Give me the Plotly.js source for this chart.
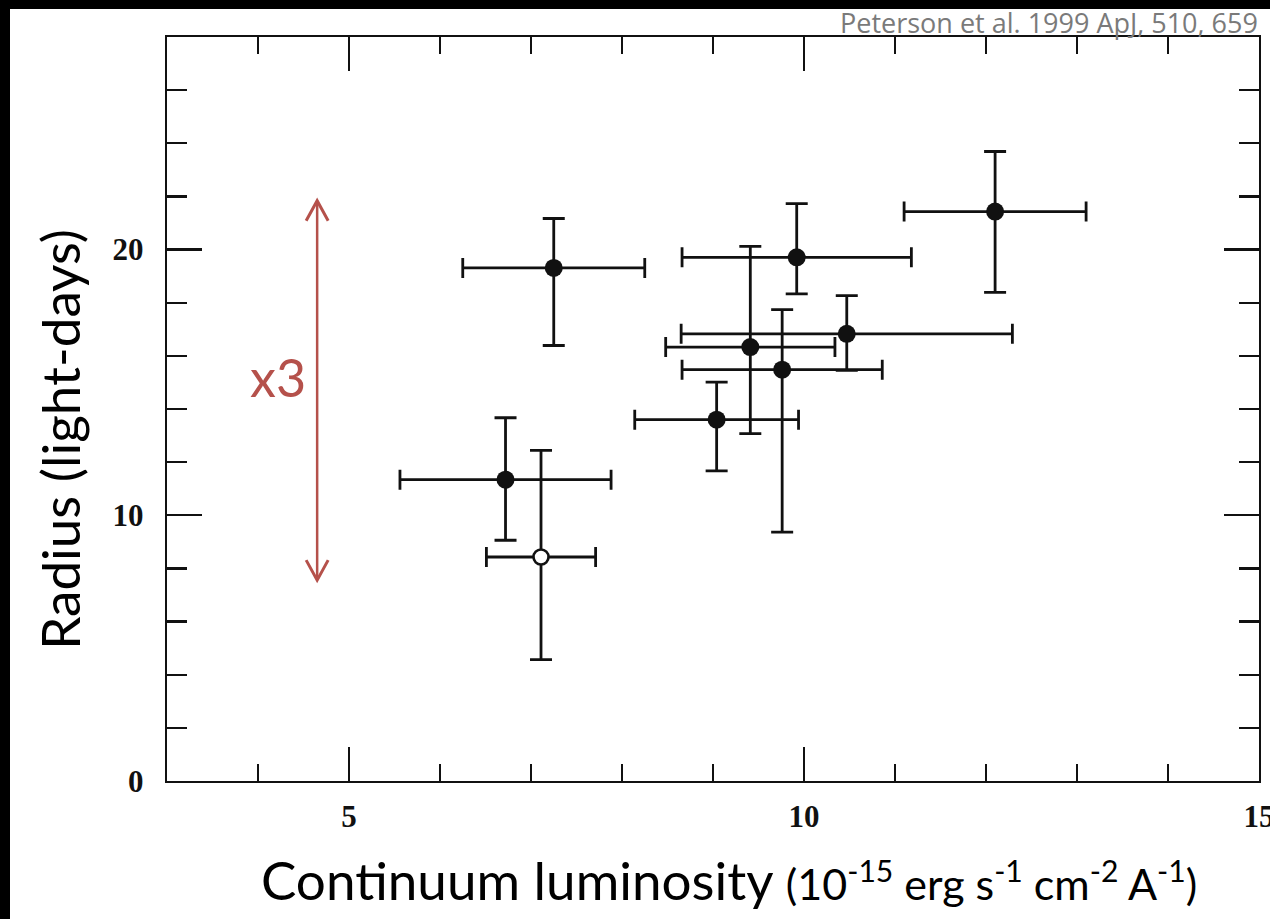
<!DOCTYPE html>
<html>
<head>
<meta charset="utf-8">
<script src="https://cdn.plot.ly/plotly-3.0.1.min.js"></script>
<style>
  html, body { margin: 0; padding: 0; background: #000; width: 1270px; height: 919px; overflow: hidden; }
  #chart { position: absolute; left: 10px; top: 9px; width: 1260px; height: 910px; background: #fff; }
</style>
</head>
<body>
<div id="chart"></div>
<script>
// Continuum luminosity (1e-15 erg s^-1 cm^-2 A^-1) and H-beta radius (light-days)
const luminosity   = [7.25, 6.72, 9.92, 9.41, 9.76, 10.47, 9.04, 12.10];
const lumErr       = [1.00, 1.16, 1.26, 0.93, 1.10, 1.82, 0.90, 1.00];
const radius       = [19.31, 11.34, 19.71, 16.33, 15.48, 16.83, 13.60, 21.43];
const radiusErrUp  = [1.86, 2.33, 2.02, 3.79, 2.26, 1.44, 1.41, 2.26];
const radiusErrLow = [2.92, 2.28, 1.38, 3.26, 6.11, 1.38, 1.93, 3.04];

// Separate (open-symbol) measurement
const openLum       = [7.11];
const openLumErr    = [0.60];
const openRadius    = [8.43];
const openRadErrUp  = [4.01];
const openRadErrLow = [3.86];

// Range spanned by the "x3" arrow
const spanX = 4.65;
const spanLow = 7.56;
const spanHigh = 21.84;

const xTicks = [5, 10, 15];
const yTicks = [0, 10, 20];

const ink = '#111';
const red = '#b5514b';
const sans = 'Lato, "Open Sans", sans-serif';
const serif = '"Liberation Serif", "DejaVu Serif", serif';

const errStyle = { color: ink, thickness: 2.8 };

const traces = [
  {
    type: 'scatter', mode: 'markers',
    x: luminosity, y: radius,
    error_x: Object.assign({ type: 'data', array: lumErr, symmetric: true, width: 10 }, errStyle),
    error_y: Object.assign({ type: 'data', array: radiusErrUp, arrayminus: radiusErrLow, symmetric: false, width: 11 }, errStyle),
    marker: { size: 18, color: ink, line: { width: 0 } },
    hoverinfo: 'x+y'
  },
  {
    type: 'scatter', mode: 'markers',
    x: openLum, y: openRadius,
    error_x: Object.assign({ type: 'data', array: openLumErr, symmetric: true, width: 10 }, errStyle),
    error_y: Object.assign({ type: 'data', array: openRadErrUp, arrayminus: openRadErrLow, symmetric: false, width: 11 }, errStyle),
    marker: { size: 15, color: '#fff', line: { width: 2.6, color: ink } },
    hoverinfo: 'x+y'
  }
];

const axisCommon = {
  showline: true, linewidth: 2.4, linecolor: ink, mirror: 'ticks',
  showgrid: false, zeroline: false,
  ticks: 'inside', tickwidth: 2.4, tickcolor: ink,
  tickfont: { family: serif, size: 31, color: ink, weight: 'bold' },
  ticklabeloverflow: 'allow',
  fixedrange: true
};

const layout = {
  width: 1260, height: 910,
  margin: { l: 157, r: 11, t: 28, b: 138 },
  paper_bgcolor: '#fff', plot_bgcolor: '#fff',
  showlegend: false,
  xaxis: Object.assign({}, axisCommon, {
    range: [3, 15], tickmode: 'array', tickvals: xTicks, ticktext: xTicks.map(String),
    ticklen: 34, ticklabelstandoff: 6,
    minor: { ticks: 'inside', dtick: 1, ticklen: 17, tickwidth: 2.4, tickcolor: ink, showgrid: false }
  }),
  yaxis: Object.assign({}, axisCommon, {
    range: [0, 28], tickmode: 'array', tickvals: yTicks, ticktext: yTicks.map(String),
    ticklen: 35, ticklabelstandoff: 15,
    minor: { ticks: 'inside', dtick: 2, ticklen: 20, tickwidth: 2.4, tickcolor: ink, showgrid: false }
  }),
  shapes: [
    { type: 'line', xref: 'x', yref: 'y', x0: spanX, x1: spanX, y0: spanLow, y1: spanHigh,
      line: { color: red, width: 2.5 } },
    { type: 'path', xref: 'x', yref: 'y', xsizemode: 'pixel', ysizemode: 'pixel',
      xanchor: spanX, yanchor: spanHigh, path: 'M -11 -20 L 0 0 L 11 -20',
      line: { color: red, width: 3 } },
    { type: 'path', xref: 'x', yref: 'y', xsizemode: 'pixel', ysizemode: 'pixel',
      xanchor: spanX, yanchor: spanLow, path: 'M -11 20 L 0 0 L 11 20',
      line: { color: red, width: 3 } }
  ],
  annotations: [
    { text: 'x3', xref: 'x', yref: 'y', x: 4.22, y: 15.2, xanchor: 'center', yanchor: 'middle',
      showarrow: false, font: { family: sans, size: 52, color: red } },
    { text: 'Peterson et al. 1999 ApJ, 510, 659', xref: 'paper', yref: 'paper',
      x: 1.001, y: 1.0195, xanchor: 'right', yanchor: 'middle', showarrow: false,
      font: { family: '"Open Sans", Lato, sans-serif', size: 27, color: '#7a7a7a' } },
    { text: 'Radius (light-days)', xref: 'paper', yref: 'paper', x: -0.098, y: 0.46,
      xanchor: 'center', yanchor: 'middle',
      textangle: -90, showarrow: false, font: { family: sans, size: 53, color: '#000' } },
    { text: 'Continuum luminosity <span style="font-size:43px">(10<sup>-15</sup> erg s<sup>-1</sup> cm<sup>-2</sup> A<sup>-1</sup>)</span>',
      xref: 'paper', yref: 'paper', x: 0.5147, y: -0.133, xanchor: 'center', yanchor: 'middle',
      showarrow: false, font: { family: sans, size: 53, color: '#000' } }
  ]
};

Plotly.newPlot('chart', traces, layout, { displayModeBar: false, staticPlot: true });
</script>
</body>
</html>
